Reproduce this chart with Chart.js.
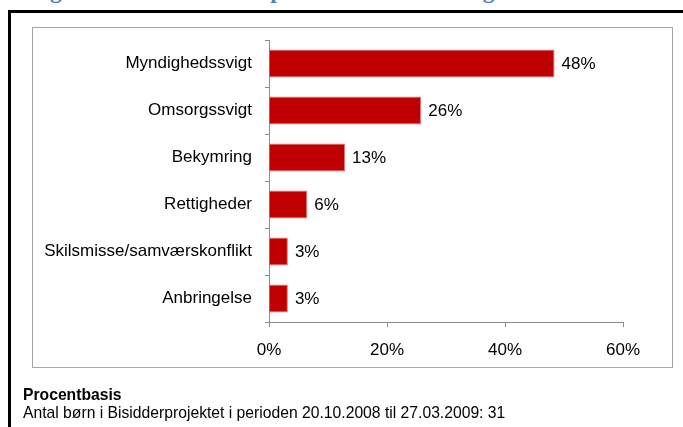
<!DOCTYPE html>
<html><head><meta charset="utf-8">
<script src="https://cdn.jsdelivr.net/npm/chart.js@4/dist/chart.umd.min.js"></script>
<style>
html,body{margin:0;padding:0;background:#fff;width:683px;height:427px;overflow:hidden;position:relative;font-family:"Liberation Sans",Arial,sans-serif;}
#title{position:absolute;left:29px;top:-22px;font:bold 23.5px "Liberation Serif",serif;color:#4F81BD;line-height:24px;white-space:nowrap;}
#frame{position:absolute;left:8px;top:10px;width:700px;height:430px;border-top:3px solid #000;border-left:3px solid #000;}
#box{position:absolute;left:32px;top:27px;width:639px;height:339px;border:1px solid #a6a6a6;}
#c{position:absolute;left:0;top:0;}
.note{position:absolute;left:23px;font-size:15.7px;line-height:18px;color:#000;white-space:nowrap;}
</style></head><body>
<div id="title">Figur 4: Henvendelser opdelt efter hovedårsag</div>
<div id="frame"></div>
<div id="box"></div>
<canvas id="c" width="683" height="427"></canvas>
<div class="note" style="top:386px;font-weight:bold;">Procentbasis</div>
<div class="note" style="top:404px;">Antal børn i Bisidderprojektet i perioden 20.10.2008 til 27.03.2009: 31</div>
<script>
const categories = ['Myndighedssvigt','Omsorgssvigt','Bekymring','Rettigheder','Skilsmisse/samværskonflikt','Anbringelse'];
const shares = [48.4, 25.8, 12.9, 6.5, 3.2, 3.2];
const shareLabels = ['48%','26%','13%','6%','3%','3%'];
const xTickValues = [0, 20, 40, 60];

const FONT = '"Liberation Sans", Arial, sans-serif';

const valueLabelPlugin = {
  id: 'valueLabels',
  afterDatasetsDraw(chart) {
    const ctx = chart.ctx;
    const meta = chart.getDatasetMeta(0);
    ctx.save();
    ctx.font = '17px ' + FONT;
    ctx.fillStyle = '#000';
    ctx.textAlign = 'left';
    ctx.textBaseline = 'middle';
    meta.data.forEach((bar, i) => {
      ctx.fillText(shareLabels[i], bar.x + 7, bar.y + 1);
    });
    ctx.restore();
  }
};

new Chart(document.getElementById('c'), {
  type: 'bar',
  data: {
    labels: categories,
    datasets: [{
      data: shares,
      backgroundColor: '#C00000',
      borderColor: '#e07a7a',
      borderWidth: 1,
      categoryPercentage: 1.0,
      barPercentage: 0.6
    }]
  },
  options: {
    indexAxis: 'y',
    responsive: false,
    devicePixelRatio: 1,
    animation: false,
    layout: { padding: { top: 40, right: 60, bottom: 60, left: 0 } },
    plugins: { legend: { display: false }, tooltip: { enabled: false }, title: { display: false } },
    scales: {
      x: {
        min: 0, max: 60,
        afterBuildTicks(scale) { scale.ticks = xTickValues.map(v => ({ value: v })); },
        afterFit(scale) { scale.height = 45; },
        grid: { display: true, drawOnChartArea: false, drawTicks: true, tickLength: 5, color: '#8c8c8c', lineWidth: 1 },
        border: { display: true, color: '#8c8c8c', width: 1 },
        ticks: { color: '#000', font: { family: FONT, size: 17 }, padding: 13, callback: v => v + '%', maxRotation: 0 }
      },
      y: {
        afterFit(scale) { scale.width = 269; },
        grid: { display: true, offset: true, drawOnChartArea: false, drawTicks: true, tickLength: 4, color: '#8c8c8c', lineWidth: 1 },
        border: { display: true, color: '#8c8c8c', width: 1 },
        ticks: { color: '#000', font: { family: FONT, size: 17 }, padding: 13 }
      }
    }
  },
  plugins: [valueLabelPlugin]
});
</script>
</body></html>
